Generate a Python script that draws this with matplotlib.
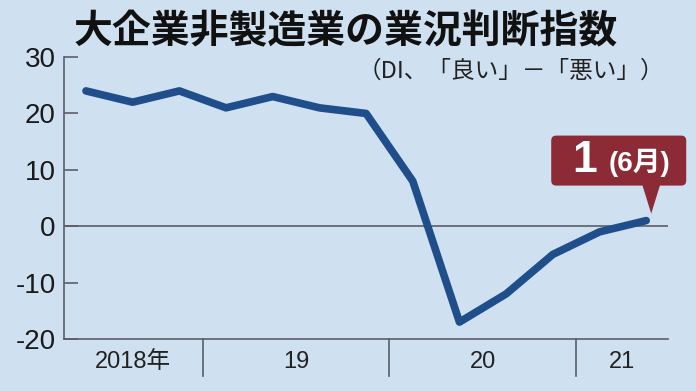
import matplotlib
matplotlib.use("Agg")
from matplotlib import pyplot as plt
from matplotlib.patches import FancyBboxPatch, Polygon

# quarterly DI, 2018 Jun .. 2021 Jun
di_values = [24, 22, 24, 21, 23, 21, 20, 8, -17, -12, -5, -1, 1]
year_labels = ["2018年", "19", "20", "21"]
year_quarters = [3, 4, 4, 2]   # points falling in each year
y_ticks = [-20, -10, 0, 10, 20, 30]

bg = "#cfe0f1"
line_color = "#1f4e8a"
axis_color = "#5a5f66"
box_color = "#8c2b36"
jp = ["Noto Sans CJK JP", "DejaVu Sans"]
latin = ["Liberation Sans", "Noto Sans CJK JP", "DejaVu Sans"]

fig = plt.figure(figsize=(6.96, 3.91), dpi=100, facecolor=bg)
ax = fig.add_axes([0.092, 0.133, 0.868, 0.721], facecolor=bg)

xs = list(range(len(di_values)))
ax.plot(xs, di_values, color=line_color, lw=5.5, solid_capstyle="round",
        solid_joinstyle="round", zorder=3)

ax.set_xlim(-0.47, len(di_values) - 0.53)
ax.set_ylim(-20, 30)

for s in ["top", "right"]:
    ax.spines[s].set_visible(False)
for s in ["left", "bottom"]:
    ax.spines[s].set_color(axis_color)
    ax.spines[s].set_linewidth(1.2)

ax.axhline(0, color=axis_color, lw=1.2, zorder=2)

ax.set_yticks(y_ticks)
ax.set_yticklabels([str(t) for t in y_ticks], family=latin, fontsize=20,
                   color="#1a1a1a")
ax.tick_params(axis="y", direction="in", length=10, width=1.2,
               color=axis_color, pad=6)
ax.set_xticks([])

# year separators and labels under the x axis
start = -0.5
for label, n in zip(year_labels, year_quarters):
    end = start + n
    lo = max(start, ax.get_xlim()[0])
    hi = min(end, ax.get_xlim()[1])
    ax.text((lo + hi) / 2, -0.08, label, transform=ax.get_xaxis_transform(),
            ha="center", va="center", fontsize=17, family=latin, color="#222")
    if end < len(di_values) - 1:
        ax.plot([end, end], [0, -0.13], transform=ax.get_xaxis_transform(),
                color=axis_color, lw=1.2, clip_on=False)
    start = end

# title
fig.text(74 / 696, 1 - 32 / 391, "大企業非製造業の業況判断指数", family=jp,
         fontsize=28, fontweight="bold", ha="left", va="center", color="#111")
fig.text(664 / 696, 1 - 71 / 391, "（DI、「良い」－「悪い」）", family=jp,
         fontsize=17, ha="right", va="center", color="#222")

# callout for the latest value
fig.canvas.draw()
px, py = ax.transData.transform((xs[-1], di_values[-1]))
box = FancyBboxPatch((px - 95, py + 35), 135, 50,
                     boxstyle="round,pad=0,rounding_size=5",
                     transform=None, facecolor=box_color, edgecolor="none",
                     zorder=5)
fig.patches.append(box)
tri = Polygon([(px - 4, py + 36), (px + 14, py + 36), (px + 5, py + 7)],
              closed=True, transform=None, facecolor=box_color,
              edgecolor="none", zorder=5)
fig.patches.append(tri)
fig.text((px - 62) / 696, (py + 60) / 391, str(di_values[-1]), family=latin,
         fontsize=32, fontweight="bold", color="white", ha="center",
         va="center", zorder=6)
fig.text((px - 7) / 696, (py + 58) / 391, "(6月)", family=latin,
         fontsize=20, fontweight="bold", color="white", ha="center",
         va="center", zorder=6)

fig.savefig("out.png", dpi=100, facecolor=bg)
